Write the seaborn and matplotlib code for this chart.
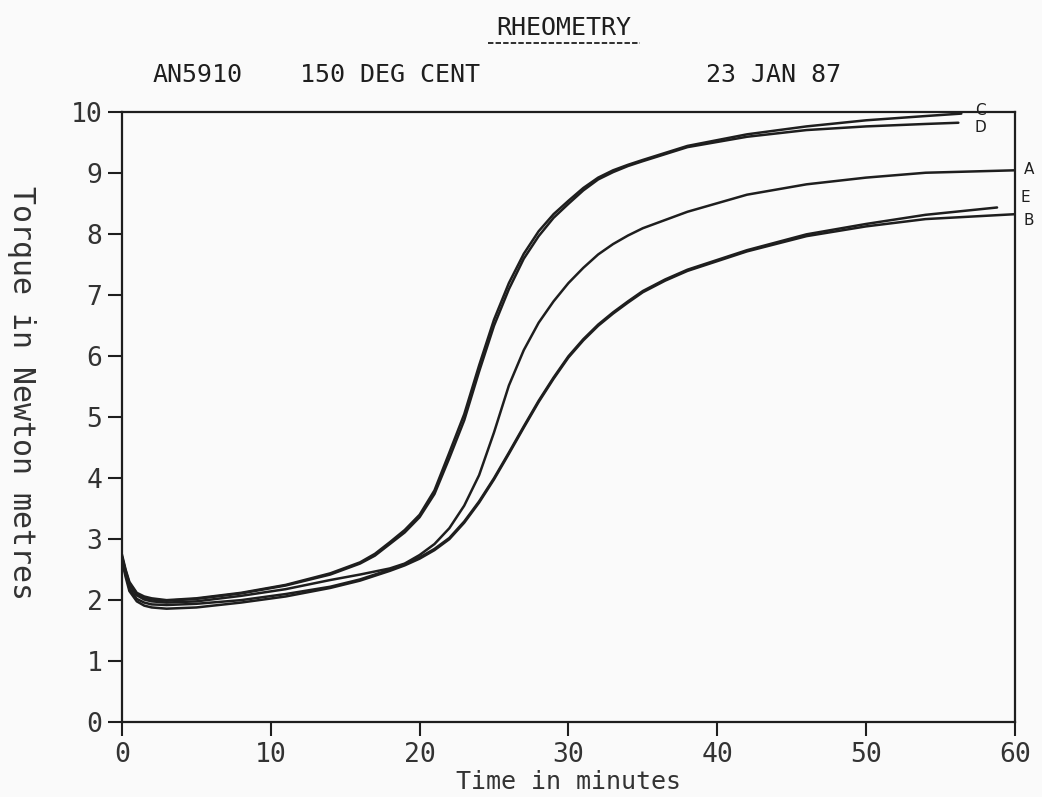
import pandas as pd
import matplotlib.pyplot as plt
import seaborn as sns
from matplotlib.lines import Line2D

# time (minutes) / torque (N m) for each compound
t_C = [0, 0.25, 0.5, 1, 1.5, 2, 3, 5, 8, 11, 14, 16, 17, 18, 19, 20, 21, 22, 23, 24, 25, 26, 27, 28, 29, 30,
       31, 32, 33, 34, 35, 38, 42, 46, 50, 54, 56.4]
C = [2.75, 2.5, 2.3, 2.12, 2.06, 2.03, 2.0, 2.03, 2.12, 2.25, 2.44, 2.62, 2.76, 2.95, 3.15, 3.4, 3.8, 4.42, 5.05, 5.85,
     6.6, 7.2, 7.68, 8.05, 8.33, 8.55, 8.76, 8.93, 9.05, 9.14, 9.22, 9.45, 9.64, 9.77, 9.87, 9.94, 9.98]
t_D = [0, 0.25, 0.5, 1, 1.5, 2, 3, 5, 8, 11, 14, 16, 17, 18, 19, 20, 21, 22, 23, 24, 25, 26, 27, 28, 29, 30,
       31, 32, 33, 34, 35, 38, 42, 46, 50, 54, 56.2]
D = [2.72, 2.48, 2.28, 2.1, 2.04, 2.01, 1.99, 2.02, 2.11, 2.24, 2.42, 2.6, 2.73, 2.92, 3.11, 3.36, 3.74, 4.33, 4.95, 5.75,
     6.5, 7.1, 7.6, 7.97, 8.27, 8.5, 8.72, 8.9, 9.02, 9.12, 9.2, 9.43, 9.6, 9.71, 9.77, 9.81, 9.83]
t_A = [0, 0.25, 0.5, 1, 1.5, 2, 3, 5, 8, 11, 14, 16, 18, 19, 20, 21, 22, 23, 24, 25, 26, 27, 28, 29, 30,
       31, 32, 33, 34, 35, 38, 42, 46, 50, 54, 60]
A = [2.7, 2.45, 2.25, 2.08, 2.01, 1.98, 1.96, 1.98, 2.07, 2.18, 2.33, 2.42, 2.52, 2.6, 2.74, 2.92, 3.18, 3.55, 4.05,
     4.75, 5.52, 6.1, 6.55, 6.9, 7.2, 7.45, 7.67, 7.84, 7.98, 8.1, 8.37, 8.65, 8.82, 8.93, 9.01, 9.05]
t_E = [0, 0.25, 0.5, 1, 1.5, 2, 3, 5, 8, 11, 14, 16, 18, 19, 20, 21, 22, 23, 24, 25, 26, 27, 28, 29, 30,
       31, 32, 33, 34, 35, 36.5, 38, 42, 46, 50, 54, 58.8]
E = [2.7, 2.42, 2.2, 2.02, 1.96, 1.93, 1.92, 1.94, 2.0, 2.1, 2.22, 2.34, 2.5, 2.59, 2.7, 2.84, 3.02, 3.29, 3.62,
     4.0, 4.42, 4.85, 5.27, 5.65, 6.0, 6.28, 6.52, 6.72, 6.9, 7.07, 7.26, 7.42, 7.74, 8.0, 8.17, 8.32, 8.44]
t_B = [0, 0.25, 0.5, 1, 1.5, 2, 3, 5, 8, 11, 14, 16, 18, 19, 20, 21, 22, 23, 24, 25, 26, 27, 28, 29, 30,
       31, 32, 33, 34, 35, 36.5, 38, 42, 46, 50, 54, 60]
B = [2.65, 2.38, 2.15, 1.98, 1.91, 1.88, 1.86, 1.88, 1.96, 2.06, 2.2, 2.32, 2.48, 2.57, 2.68, 2.82, 3.0, 3.27, 3.6,
     3.98, 4.4, 4.83, 5.25, 5.63, 5.98, 6.26, 6.5, 6.7, 6.88, 7.05, 7.24, 7.4, 7.72, 7.97, 8.13, 8.25, 8.33]

compounds = ['C', 'D', 'A', 'E', 'B']
times = [t_C, t_D, t_A, t_E, t_B]
torques = [C, D, A, E, B]
# end labels: (x, y) in data units
label_pos = {'C': (57.3, 10.03), 'D': (57.3, 9.76), 'A': (60.6, 9.07),
             'E': (60.4, 8.6), 'B': (60.6, 8.22)}

xticks = [0, 10, 20, 30, 40, 50, 60]
yticks = list(range(0, 11))

rows = []
for name, tt, vv in zip(compounds, times, torques):
    for t, v in zip(tt, vv):
        rows.append({'compound': name, 'time': t, 'torque': v})
df = pd.DataFrame(rows)

sns.set_style('white')
ink = '#1e1e1e'
plt.rcParams['font.family'] = ['DejaVu Sans Mono', 'DejaVu Sans']

fig = plt.figure(figsize=(10.42, 7.97), dpi=100, facecolor='#fafafa')
ax = fig.add_axes([0.117, 0.094, 0.857, 0.765])
ax.set_facecolor('#fafafa')

sns.lineplot(data=df, x='time', y='torque', hue='compound', units='compound',
             estimator=None, sort=False, palette=[ink] * 5, linewidth=1.8,
             legend=False, ax=ax)

for name, (lx, ly) in label_pos.items():
    ax.text(lx, ly, name, fontsize=11, color=ink, ha='left', va='center',
            family='DejaVu Sans', clip_on=False)

ax.set_xlim(0, 60)
ax.set_ylim(0, 10)
ax.set_xticks(xticks)
ax.set_yticks(yticks)
ax.tick_params(axis='both', which='major', bottom=True, left=True, direction='out',
               length=10, width=1.5, color=ink, labelcolor='#333333',
               labelsize=19, pad=4)
for s in ax.spines.values():
    s.set_visible(True)
    s.set_color(ink)
    s.set_linewidth(1.6)

ax.set_xlabel('Time in minutes', fontsize=18, color='#333333', labelpad=2)
ax.set_ylabel('Torque in Newton metres', fontsize=21.5, color='#333333',
              rotation=-90)
ax.yaxis.set_label_coords(-0.129, 0.54)

fig.text(0.541, 0.965, 'RHEOMETRY', fontsize=18, color=ink, ha='center', va='center')
fig.add_artist(Line2D([0.468, 0.614], [0.946, 0.946], color=ink, lw=1.3,
                      linestyle=(0, (3, 1.2))))
fig.text(0.146, 0.906, 'AN5910', fontsize=18, color=ink, ha='left', va='center')
fig.text(0.288, 0.906, '150 DEG CENT', fontsize=18, color=ink, ha='left', va='center')
fig.text(0.678, 0.906, '23 JAN 87', fontsize=18, color=ink, ha='left', va='center')

fig.savefig('out.png', dpi=100, facecolor=fig.get_facecolor())
